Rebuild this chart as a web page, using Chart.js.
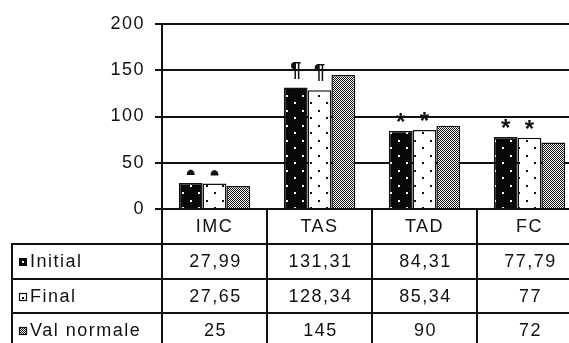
<!DOCTYPE html>
<html>
<head>
<meta charset="utf-8">
<script src="https://cdn.jsdelivr.net/npm/chart.js@4/dist/chart.umd.min.js"></script>
<style>
  html, body { margin: 0; padding: 0; background: #fff; overflow: hidden; width: 569px; height: 343px; }
  #wrap { position: relative; width: 584px; height: 348px; }
</style>
</head>
<body>
<div id="wrap"><canvas id="c" width="584" height="348"></canvas></div>
<script>
// Measurements per category
const categories = ['IMC', 'TAS', 'TAD', 'FC'];
const initialValues = [27.99, 131.31, 84.31, 77.79];
const finalValues = [27.65, 128.34, 85.34, 77];
const normalValues = [25, 145, 90, 72];
const seriesNames = ['Initial', 'Final', 'Val normale'];
const yTickValues = [0, 50, 100, 150, 200];
// Significance marks shown above the Initial and Final bars
const significanceMarks = ['dome', '¶', '*', '*'];

const FONT = "'Liberation Sans', Arial, sans-serif";
const INK = '#111111';
const LETTER_SPACING = '1.5px';

function makePattern(w, h, bg, fg, dots, size) {
  const c = document.createElement('canvas');
  c.width = w; c.height = h;
  const g = c.getContext('2d');
  g.fillStyle = bg; g.fillRect(0, 0, w, h);
  g.fillStyle = fg;
  dots.forEach(([x, y]) => g.fillRect(x, y, size, size));
  return g.createPattern(c, 'repeat');
}

const pInitial = makePattern(16, 15, '#080808', '#ffffff', [[14, 5], [6, 12]], 2);
const pFinal = makePattern(16, 15, '#ffffff', '#111111', [[14, 5], [6, 12]], 2);
const pNormal = makePattern(2, 2, '#ffffff', '#111111', [[0, 0], [1, 1]], 1);
const fills = [pInitial, pFinal, pNormal];
const seriesValues = [initialValues, finalValues, normalValues];

const fmt = v => String(v).replace('.', ',');

// Keeps the spaced-out lettering on everything drawn on the canvas
const spacingPlugin = {
  id: 'spacing',
  beforeDraw(chart) { chart.ctx.letterSpacing = LETTER_SPACING; }
};

// Significance marks above bars
const marksPlugin = {
  id: 'marks',
  afterDatasetsDraw(chart) {
    const ctx = chart.ctx;
    ctx.save();
    ctx.fillStyle = INK;
    ctx.letterSpacing = '0px';
    for (let i = 0; i < categories.length; i++) {
      const mark = significanceMarks[i];
      for (const d of [0, 1]) {
        const bar = chart.getDatasetMeta(d).data[i];
        const bottom = bar.y - 9;
        if (mark === 'dome') {
          ctx.beginPath();
          ctx.ellipse(bar.x, bottom + 1, 4, 5.5, 0, Math.PI, 2 * Math.PI);
          ctx.closePath();
          ctx.fill();
        } else {
          ctx.font = mark === '¶' ? `bold 20px ${FONT}` : `bold 24px ${FONT}`;
          ctx.textAlign = 'center';
          ctx.textBaseline = 'alphabetic';
          const m = ctx.measureText(mark);
          ctx.fillText(mark, bar.x, bottom - m.actualBoundingBoxDescent);
        }
      }
    }
    ctx.restore();
  }
};

// Data table under the plot
const tablePlugin = {
  id: 'dataTable',
  afterDraw(chart) {
    const { ctx, chartArea, scales: { x } } = chart;
    const colW = (chartArea.right - chartArea.left) / categories.length;
    const top = chartArea.bottom;
    const headerBottom = top + 35;
    const rowH = 34.5;
    const tableLeft = 12;
    const bottom = chart.height;
    ctx.save();
    ctx.strokeStyle = INK;
    ctx.lineWidth = 2;
    ctx.beginPath();
    for (let r = 0; r <= seriesNames.length; r++) {
      const y = Math.round(headerBottom + r * rowH);
      ctx.moveTo(tableLeft, y); ctx.lineTo(chart.width, y);
    }
    ctx.moveTo(tableLeft, headerBottom - 1); ctx.lineTo(tableLeft, bottom);
    for (let i = 0; i <= categories.length; i++) {
      const xx = Math.round(chartArea.left + i * colW);
      ctx.moveTo(xx, top); ctx.lineTo(xx, bottom);
    }
    ctx.stroke();

    ctx.font = `18px ${FONT}`;
    ctx.letterSpacing = LETTER_SPACING;
    ctx.fillStyle = INK;
    ctx.textBaseline = 'middle';
    seriesNames.forEach((name, r) => {
      const cy = headerBottom + r * rowH + rowH / 2 + 1;
      // legend key
      const kx = 19, ky = Math.round(cy - 4), ks = 8;
      if (r === 0) {
        ctx.fillStyle = '#080808'; ctx.fillRect(kx, ky, ks, ks);
        ctx.fillStyle = '#fff'; ctx.fillRect(kx + 3, ky + 3, 2, 2);
      } else {
        ctx.fillStyle = r === 1 ? '#fff' : pNormal;
        ctx.fillRect(kx, ky, ks, ks);
        ctx.lineWidth = 1.2; ctx.strokeStyle = INK;
        ctx.strokeRect(kx + 0.5, ky + 0.5, ks - 1, ks - 1);
        if (r === 1) { ctx.fillStyle = INK; ctx.fillRect(kx + 3, ky + 4, 2, 2); }
      }
      ctx.fillStyle = INK;
      ctx.textAlign = 'left';
      ctx.fillText(name, 30, cy);
      ctx.textAlign = 'center';
      seriesValues[r].forEach((v, i) => {
        ctx.fillText(fmt(v), x.getPixelForValue(i) + 1, cy);
      });
    });
    ctx.restore();
  }
};

Chart.defaults.font.family = FONT;
Chart.defaults.font.size = 18;
Chart.defaults.color = INK;

new Chart(document.getElementById('c'), {
  type: 'bar',
  data: {
    labels: categories,
    datasets: seriesNames.map((name, k) => ({
      label: name,
      data: seriesValues[k],
      backgroundColor: fills[k],
      borderColor: INK,
      borderWidth: 1.5,
      borderSkipped: 'bottom',
      categoryPercentage: 0.68,
      barPercentage: 1.0
    }))
  },
  options: {
    responsive: false,
    animation: false,
    devicePixelRatio: 1,
    layout: { padding: { top: 24, right: 2, left: 0, bottom: 0 } },
    plugins: { legend: { display: false }, tooltip: { enabled: false } },
    scales: {
      x: {
        grid: { display: false, drawTicks: false },
        border: { display: false },
        ticks: { padding: 7, font: { size: 18 }, color: INK },
        afterFit(scale) { scale.height = 348 - 209; }
      },
      y: {
        min: 0, max: 200,
        afterBuildTicks(scale) { scale.ticks = yTickValues.map(v => ({ value: v })); },
        grid: { color: INK, lineWidth: 2, tickLength: 7, drawTicks: true },
        border: { display: true, color: INK, width: 2 },
        ticks: { padding: 10, font: { size: 18 }, color: INK },
        afterFit(scale) { scale.width = 162; }
      }
    }
  },
  plugins: [spacingPlugin, marksPlugin, tablePlugin]
});
</script>
</body>
</html>
